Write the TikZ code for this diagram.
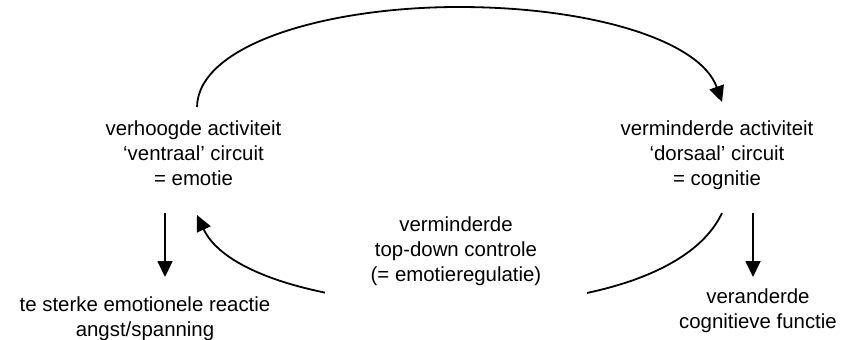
\documentclass[tikz,border=0pt]{standalone}
\usepackage{fontspec}
\setmainfont{Liberation Sans}
\usetikzlibrary{arrows.meta}
\begin{document}
\begin{tikzpicture}[x=1pt, y=-1pt,
  lbl/.style={font=\fontsize{20.4}{25}\selectfont, align=center, inner sep=0pt, anchor=north},
  conn/.style={line width=1.8pt, -{Triangle[width=15pt,length=16pt]}}]
\useasboundingbox (0,0) rectangle (844,340);

% circuit descriptions
\node[lbl] (ventral) at (193.5,120.5) {verhoogde activiteit\\‘ventraal’ circuit\\= emotie};
\node[lbl] (dorsal)  at (717,120.5)   {verminderde activiteit\\‘dorsaal’ circuit\\= cognitie};

% consequences
\node[lbl] (fear)  at (145,296.5) {te sterke emotionele reactie\\angst/spanning};
\node[lbl] (cogfx) at (758,288.5) {veranderde\\cognitieve functie};

% end points of the connectors
\coordinate (vTop) at (197,107);
\coordinate (dTop) at (722,102);
\coordinate (dBot) at (722,213);
\coordinate (vBot) at (197,215);
\coordinate (vOut) at (165,213);
\coordinate (vIn)  at (165,277);
\coordinate (dOut) at (753,213);
\coordinate (dIn)  at (753,277);

% upper loop: ventral -> dorsal
\draw[conn] (vTop) .. controls (198,45) and (325,7) .. (459,7)
                   .. controls (590,7) and (700,40) .. (dTop);

% lower loop: dorsal -> ventral
\draw[conn] (dBot) .. controls (694,273) and (590,305) .. (460,305)
                   .. controls (330,305) and (225,275) .. (vBot);

% label of the lower loop, on an opaque box
\node[lbl, fill=white, inner xsep=46pt, inner ysep=30pt] (topdown) at (456,186.5)
  {verminderde\\top-down controle\\(= emotieregulatie)};

% downward effects
\draw[conn] (vOut) -- (vIn);
\draw[conn] (dOut) -- (dIn);
\end{tikzpicture}
\end{document}
